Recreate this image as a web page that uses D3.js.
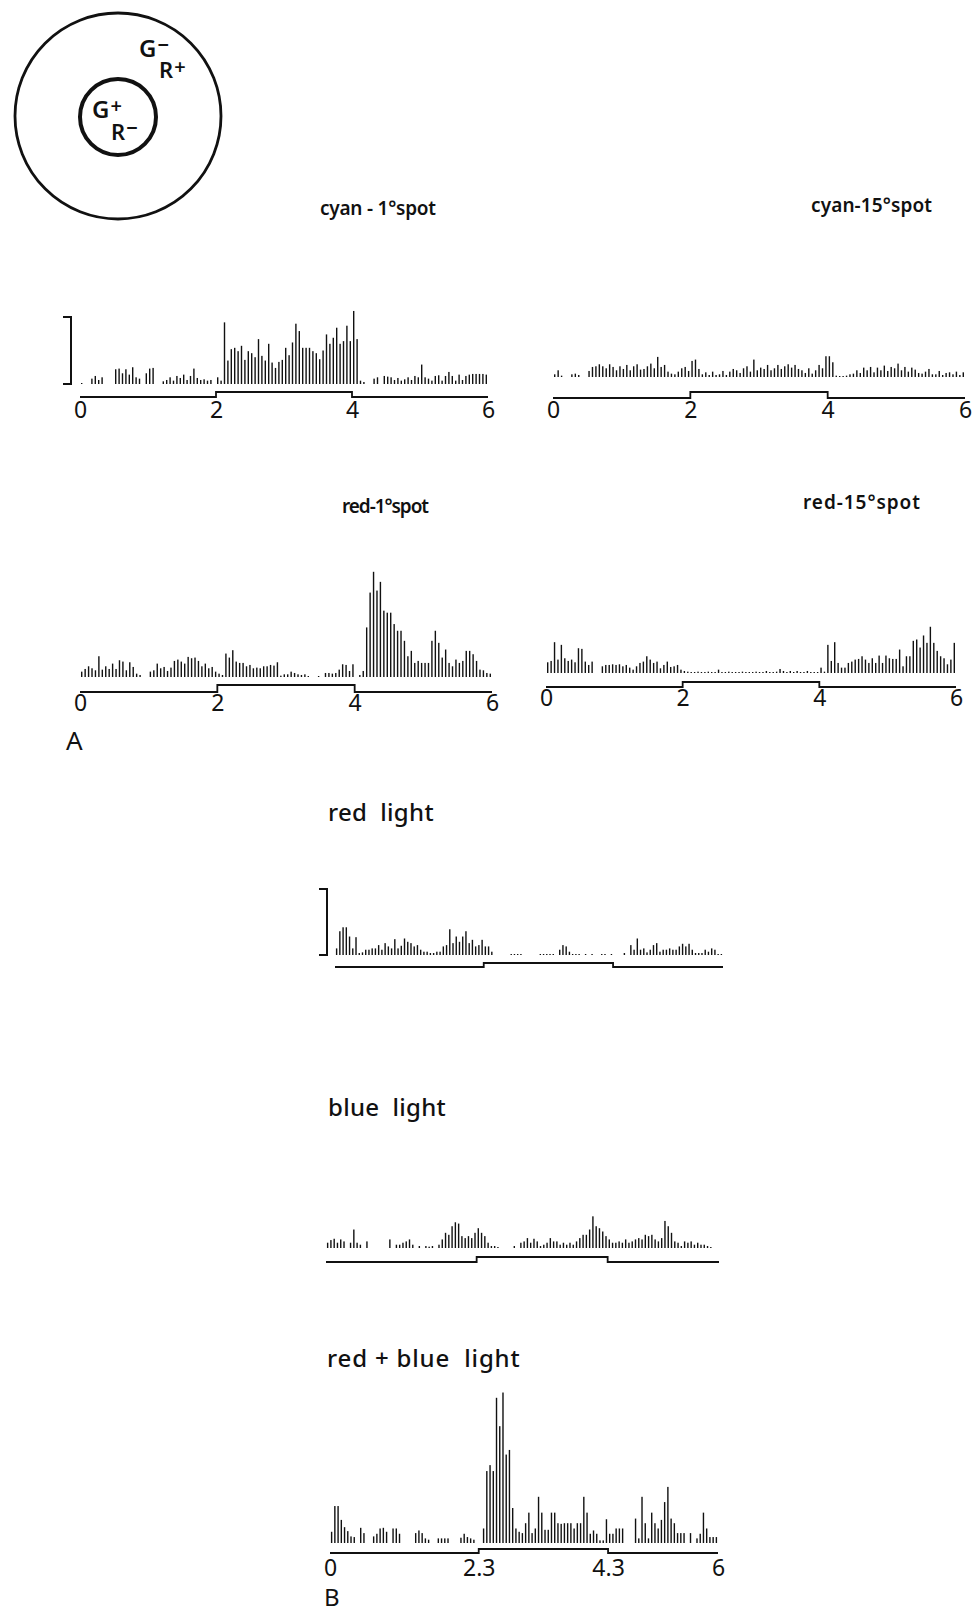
<!DOCTYPE html>
<html>
<head>
<meta charset="utf-8">
<script src="https://cdn.jsdelivr.net/npm/d3@7"></script>
<style>
  body { margin: 0; background: #fff; }
  svg { display: block; }
  text { font-family: "Noto Sans", "DejaVu Sans", sans-serif; fill: #111; }
</style>
</head>
<body>
<div id="chart"></div>
<script>
// spike counts per 50 ms bin, 6 s sweep (scale bar = 10)
const cyanSmallSpot = [0.1,0,0,0.8,1.2,0.6,1.0,0,0,0,2.2,2.3,1.6,2.2,1.4,2.5,1.0,0.8,0,1.6,2.3,2.4,0,0,0.4,0.6,1.0,0.5,1.2,0.9,1.4,0.6,1.2,2.3,0.9,0.6,0.7,0.5,0.6,0,1.0,0.5,9.2,3.5,5.2,5.4,4.9,5.7,3.6,4.9,4.6,4.0,6.7,4.2,3.5,6.0,3.2,2.4,3.3,3.6,5.4,4.3,6.2,9.0,7.9,5.4,5.4,5.4,4.9,4.6,3.7,5.0,7.4,6.0,6.9,8.4,6.0,6.4,8.7,6.4,10.9,6.7,0.5,0.3,0,0,0.8,1.0,0,1.2,1.1,1.0,0.6,0.9,0.5,0.7,1.0,0.6,1.2,1.0,2.9,1.0,0.8,0.5,1.2,1.3,0.5,1.2,1.8,1.2,0.5,1.4,0.6,1.2,1.4,1.5,1.5,1.5,1.5,1.4];
const cyanLargeSpot = [0.4,1.0,0.2,0,0,0.4,0.5,0.3,0,0,0.9,1.5,1.6,1.9,1.6,1.3,1.9,1.5,1.0,1.6,1.2,1.8,1.0,1.6,1.9,1.1,1.2,1.6,2.0,1.3,3.0,1.5,1.8,0.8,0.5,0.4,0.8,1.3,1.5,0.9,2.4,2.6,1.2,0.4,0.7,0.3,0.8,0.3,0.4,0.9,0.3,0.8,1.2,1.0,0.6,1.3,1.6,0.8,2.6,1.0,1.4,1.2,1.8,1.0,1.3,1.8,1.2,1.6,1.9,1.4,1.8,1.2,1.0,0.6,1.3,0.5,1.0,1.8,1.3,3.1,3.1,2.2,0.2,0.1,0.1,0.2,0.4,0.5,1.0,0.6,1.4,1.0,1.5,0.7,1.4,1.0,1.7,0.9,1.5,1.3,2.0,1.0,1.5,0.8,1.4,1.1,0.6,0.5,0.8,1.2,0.4,0.4,0.9,0.3,0.6,0.7,0.4,0.8,0.3,0.7];
const redSmallSpot = [0.8,1.2,1.6,1.3,1.0,3.1,1.1,1.6,1.2,2.0,1.2,2.5,2.3,1.0,2.2,1.5,0.5,0.3,0,0,0.8,1.0,2.0,1.3,1.5,0.9,1.4,2.4,2.6,2.3,2.0,3.0,2.8,2.9,2.4,1.6,2.0,1.3,1.5,0.8,0.5,0.3,3.5,2.9,4.0,2.3,2.1,2.1,1.6,1.8,1.3,1.4,1.3,1.6,1.6,1.8,1.7,2.2,0.2,0.4,0.4,0.8,0.6,0.4,0.3,0.4,0.1,0,0,0.1,0,0.6,0.6,0.5,0.6,1.1,1.9,1.8,0.9,1.9,0,0.3,0.9,7.4,12.6,15.7,12.9,14.2,9.9,9.6,9.6,7.9,6.9,6.9,5.4,3.1,3.9,2.1,2.4,2.1,2.1,2.1,5.4,6.9,5.1,2.9,4.1,2.1,1.6,2.6,2.1,2.4,3.9,3.9,3.4,2.4,1.1,1.0,0.6,0.5];
const redLargeSpot = [1.6,1.8,4.6,2.0,4.2,2.2,1.8,2.0,1.6,3.7,3.6,1.7,1.2,1.7,0,0,1.0,1.2,1.2,1.3,1.2,1.3,1.0,1.2,0.8,0.5,1.0,1.5,1.7,2.5,2.0,1.5,1.7,0.7,1.2,1.7,0.9,1.0,1.2,0.5,0.3,0.2,0.1,0.1,0.2,0.1,0.1,0.2,0.1,0.1,0.5,0.1,0.1,0.2,0.1,0.1,0.1,0.2,0.1,0.1,0.1,0.2,0.1,0.1,0.3,0.1,0.1,0.2,0.6,0.3,0.1,0.3,0.1,0.3,0.1,0.1,0.3,0.1,0.1,0.1,0.8,0.2,4.2,1.8,4.6,1.5,0.8,0.8,1.5,1.7,2.0,2.1,2.5,2.0,1.5,2.2,1.5,2.6,1.5,2.6,2.2,2.1,2.1,3.5,1.0,2.5,2.5,4.8,5.0,3.8,5.6,4.5,6.9,4.5,3.3,2.5,2.2,1.3,2.0,4.5];
const redLight = [1.0,3.6,4.2,4.2,2.8,1.0,2.7,0.3,0.4,0.8,0.8,1.0,1.0,1.5,0.8,1.8,1.3,1.0,2.4,1.0,1.4,2.5,2.0,1.8,1.3,1.5,0.8,0.5,0.5,0.3,0.3,0.5,0.5,1.3,1.5,3.9,1.8,2.8,2.0,2.8,3.6,1.8,2.3,1.3,1.5,2.3,1.3,1.3,0.5,0,0,0,0,0,0.1,0.1,0.1,0.1,0,0,0,0,0,0.1,0.1,0.1,0.1,0.1,0,0.8,1.5,1.3,0.5,0.1,0.1,0.1,0,0.1,0,0.1,0,0,0.1,0.1,0,0.1,0,0,0,0.3,0,1.5,0.8,2.5,0.8,1.0,0.4,0.8,1.5,1.8,0.5,0.8,0.8,1.0,0.8,0.8,1.3,1.7,1.3,1.7,0.8,0.3,0.3,0.3,0.8,0.5,1.0,0.8,0.1,0.1];
const blueLight = [0.8,1.2,1.4,0.8,1.3,1.0,0,0.8,2.8,0.8,0.5,0,1.0,0,0,0,0,0,0,1.3,0,0.5,0.5,0.8,1.0,1.3,0.5,0,0.3,0,0.3,0.2,0.3,0,0.5,1.3,2.3,2.0,3.3,3.9,3.7,1.8,1.5,1.8,1.5,2.3,3.0,2.3,1.8,0.8,0.3,0.3,0.1,0,0,0,0,0.3,0,0.8,1.0,1.5,0.8,1.4,1.0,0.3,0.5,0.8,1.5,1.0,1.0,0.5,0.8,0.5,0.8,0.5,1.0,1.5,2.0,2.0,2.8,4.8,3.3,3.0,2.5,1.8,1.3,0.8,0.8,1.0,0.8,1.3,0.8,1.0,1.3,1.5,1.3,2.0,1.8,2.0,1.3,1.0,1.5,4.1,3.3,2.3,1.0,0.8,0.3,1.0,0.8,1.0,0.5,0.8,0.5,0.5,0.3,0.1,0,0];
const redBlueLight = [1.7,5.6,5.6,3.5,2.4,1.8,1.0,0.9,0,2.3,1.5,0,0,1.0,1.4,2.2,2.3,1.7,0,2.2,2.2,1.4,0,0,0,0,1.5,1.9,1.5,0.7,0.5,0,0,0.7,0.7,0.7,0.7,0,0,0,0.8,1.4,0.9,0.7,0.5,0,0,2.2,10.9,11.8,10.9,22.0,17.7,22.8,13.4,14.1,5.3,2.2,1.7,1.5,3.0,4.6,1.5,2.2,7.0,4.6,2.0,2.0,4.6,4.6,3.0,2.9,3.0,3.0,3.0,2.2,3.0,3.0,7.0,4.6,1.4,1.9,1.4,0.4,0.4,3.6,1.4,1.4,2.2,2.2,2.2,0,0,0,3.7,0.7,7.0,3.0,0.7,4.6,3.0,2.2,3.5,6.2,8.5,3.7,3.0,1.5,1.5,1.5,0,1.5,0,0.7,1.4,4.6,2.2,0.9,0.9,0.9];

const ticksA = [0, 2, 4, 6];
const ticksB = [0, 2.3, 4.3, 6];
const stimA = [2, 4];
const stimB = [2.3, 4.3];
const titles = ['cyan - 1°spot', 'cyan-15°spot', 'red-1°spot', 'red-15°spot', 'red  light', 'blue  light', 'red + blue  light'];

const width = 973;
const height = 1613;

const svg = d3.select('#chart')
  .append('svg')
  .attr('width', width)
  .attr('height', height);

// receptive field sketch
const rf = svg.append('g');
rf.append('circle').attr('cx', 118).attr('cy', 116).attr('r', 103)
  .attr('fill', 'none').attr('stroke', '#111').attr('stroke-width', 2.8);
rf.append('circle').attr('cx', 118).attr('cy', 117).attr('r', 38)
  .attr('fill', 'none').attr('stroke', '#111').attr('stroke-width', 4);

const rfLabels = [
  {t: 'G', sup: '+', x: 92, y: 118, s: 24, rise: -5},
  {t: 'R', sup: '\u2212', x: 111, y: 140, s: 22, rise: -5},
  {t: 'G', sup: '\u2212', x: 139, y: 57, s: 24, rise: -5},
  {t: 'R', sup: '+', x: 159, y: 78, s: 22, rise: -4}
];
const rfText = rf.selectAll('text')
  .data(rfLabels)
  .enter()
  .append('text')
  .attr('x', d => d.x)
  .attr('y', d => d.y)
  .attr('font-size', d => d.s)
  .attr('font-weight', 600);
rfText.append('tspan').text(d => d.t);
rfText.append('tspan')
  .attr('dx', 1)
  .attr('dy', d => d.rise)
  .attr('font-size', 20)
  .text(d => d.sup);

const panels = [
  {data: cyanSmallSpot, title: titles[0], tx: 320, ty: 215, ts: 19, tw: 116, x0: 80, x1: 488, base: 384, unit: 6.7, stim: stimA, low: 397, high: 392, ticks: ticksA, tickY: 418, bracket: 71},
  {data: cyanLargeSpot, title: titles[1], tx: 811, ty: 212, ts: 19, tw: 121, x0: 553, x1: 965, base: 377, unit: 6.7, stim: stimA, low: 398, high: 392, ticks: ticksA, tickY: 418},
  {data: redSmallSpot, title: titles[2], tx: 342, ty: 513, ts: 19, tw: 87, x0: 80, x1: 492, base: 677, unit: 6.7, stim: stimA, low: 692, high: 685, ticks: ticksA, tickY: 711},
  {data: redLargeSpot, title: titles[3], tx: 803, ty: 509, ts: 19, tw: 117, x0: 546, x1: 956, base: 673, unit: 6.7, stim: stimA, low: 687, high: 682, ticks: ticksA, tickY: 706},
  {data: redLight, title: titles[4], tx: 328, ty: 821, ts: 24, x0: 335, x1: 723, base: 955, unit: 6.6, stim: stimB, low: 967, high: 963, bracket: 327},
  {data: blueLight, title: titles[5], tx: 328, ty: 1116, ts: 24, x0: 326, x1: 719, base: 1248, unit: 6.6, stim: stimB, low: 1262, high: 1257},
  {data: redBlueLight, title: titles[6], tx: 327, ty: 1367, ts: 24, tw: 193, x0: 330, x1: 718, base: 1543, unit: 6.6, stim: stimB, low: 1553, high: 1549, ticks: ticksB, tickY: 1576}
];

panels.forEach(p => {
  const g = svg.append('g');
  const n = p.data.length;
  const x = d3.scaleLinear().domain([0, 6]).range([p.x0, p.x1]);
  const y = d3.scaleLinear().domain([0, 10]).range([p.base, p.base - 10 * p.unit]);
  const stimY = d3.scaleLinear().domain([0, 1]).range([p.low, p.high]);
  const bin = 6 / n;

  const title = g.append('text')
    .attr('x', p.tx)
    .attr('y', p.ty)
    .attr('font-size', p.ts)
    .attr('font-weight', p.ts < 20 ? 600 : 500)
    .attr('letter-spacing', p.ts < 20 ? 0 : 0.3)
    .style('white-space', 'pre')
    .text(p.title);
  if (p.tw) {
    title.attr('textLength', p.tw).attr('lengthAdjust', 'spacing');
  }

  g.selectAll('rect.bin')
    .data(p.data.map((v, i) => ({v: v, t: (i + 0.5) * bin})).filter(d => d.v > 0))
    .enter()
    .append('rect')
    .attr('class', 'bin')
    .attr('x', d => x(d.t) - 0.7)
    .attr('width', 1.4)
    .attr('y', d => Math.min(y(d.v), p.base - 1))
    .attr('height', d => Math.max(p.base - y(d.v), 1))
    .attr('fill', '#111');

  const stimPts = [[0, 0], [p.stim[0], 1], [p.stim[1], 0], [6, 0]];
  g.append('path')
    .attr('d', d3.line().x(d => x(d[0])).y(d => stimY(d[1])).curve(d3.curveStepAfter)(stimPts))
    .attr('fill', 'none')
    .attr('stroke', '#111')
    .attr('stroke-width', 1.8);

  if (p.ticks) {
    const axis = g.append('g')
      .attr('transform', `translate(0, ${p.tickY})`)
      .call(d3.axisBottom(x).tickValues(p.ticks).tickSize(0).tickFormat(d => d));
    axis.select('.domain').remove();
    axis.selectAll('.tick text')
      .attr('y', 0)
      .attr('dy', 0)
      .attr('font-size', 23)
      .attr('font-family', '"Noto Sans", sans-serif')
      .attr('fill', '#111');
  }

  if (p.bracket) {
    const top = y(10);
    g.append('path')
      .attr('d', `M${p.bracket - 8},${top}H${p.bracket}V${p.base}H${p.bracket - 8}`)
      .attr('fill', 'none')
      .attr('stroke', '#111')
      .attr('stroke-width', 2);
  }
});

svg.append('text').attr('x', 66).attr('y', 750).attr('font-size', 26).text('A');
svg.append('text').attr('x', 324).attr('y', 1606).attr('font-size', 24).text('B');
</script>
</body>
</html>
